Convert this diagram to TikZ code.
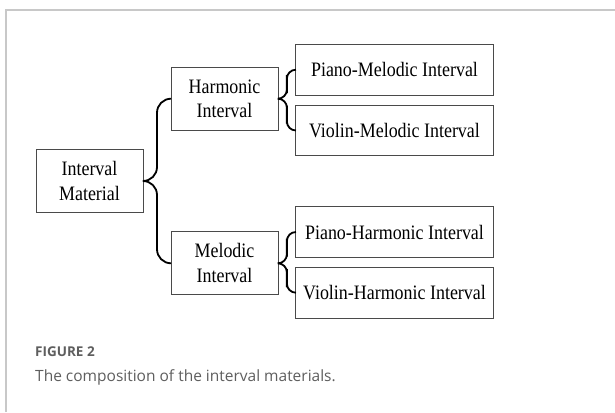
\documentclass[tikz,border=0pt]{standalone}
\usepackage{fontspec}
\setmainfont{Liberation Serif}
\newfontfamily\boxfont[FakeStretch=0.875]{Liberation Serif}
\newfontfamily\capfont{Open Sans}
\usetikzlibrary{calc}
\definecolor{framegray}{HTML}{C8C8C8}
\definecolor{boxline}{HTML}{4A4A4A}
\definecolor{captiongray}{HTML}{5E5E5E}
\tikzset{
  item/.style={draw=boxline, line width=0.9pt, inner sep=0pt, align=center,
    font=\boxfont\fontsize{20.5}{24.7}\selectfont},
  midbox/.style={item, minimum width=107pt, minimum height=63pt},
  leafbox/.style={item, minimum width=197.5pt, minimum height=50.5pt},
  bigbrace/.style={draw=black, line width=1.8pt, rounded corners=14pt},
  smallbrace/.style={draw=black, line width=1.8pt, rounded corners=9pt},
}
\begin{document}
\begin{tikzpicture}[x=1pt, y=-1pt]
  \useasboundingbox (0,0) rectangle (615,412);
  % card frame
  \draw[framegray, line width=1.2pt] (6,412) -- (6,10) -- (615,10);

  % boxes
  \node[midbox] (im) at (89.5,181) {Interval\\Material};
  \node[midbox] (hi) at (224.5,98.7) {Harmonic\\Interval};
  \node[midbox] (mi) at (224.5,263.3) {Melodic\\Interval};
  \node[leafbox] (pm) at (394.5,69.7) {Piano-Melodic Interval};
  \node[leafbox] (vm) at (394.5,130.5) {Violin-Melodic Interval};
  \node[leafbox] (ph) at (394.5,232) {Piano-Harmonic Interval};
  \node[leafbox] (vh) at (394.5,292.7) {Violin-Harmonic Interval};

  % braces
  \draw[bigbrace] (im.east) -| ($(im.east)!.5!(hi.west)$) |- (hi.west);
  \draw[bigbrace] (im.east) -| ($(im.east)!.5!(mi.west)$) |- (mi.west);
  \draw[smallbrace] (hi.east) -| ($(hi.east)!.5!(pm.west)$) |- (pm.west);
  \draw[smallbrace] (hi.east) -| ($(hi.east)!.5!(vm.west)$) |- (vm.west);
  \draw[smallbrace] (mi.east) -| ($(mi.east)!.5!(ph.west)$) |- (ph.west);
  \draw[smallbrace] (mi.east) -| ($(mi.east)!.5!(vh.west)$) |- (vh.west);

  % caption
  \node[anchor=base west, inner sep=0pt, text=captiongray,
    font=\capfont\bfseries\fontsize{13.5}{15}\selectfont] (fig) at (35,356) {FIGURE 2};
  \node[anchor=base west, inner sep=0pt, text=captiongray,
    font=\capfont\fontsize{15.5}{18}\selectfont] (cap) at (35,381.7)
    {The composition of the interval materials.};
\end{tikzpicture}
\end{document}
